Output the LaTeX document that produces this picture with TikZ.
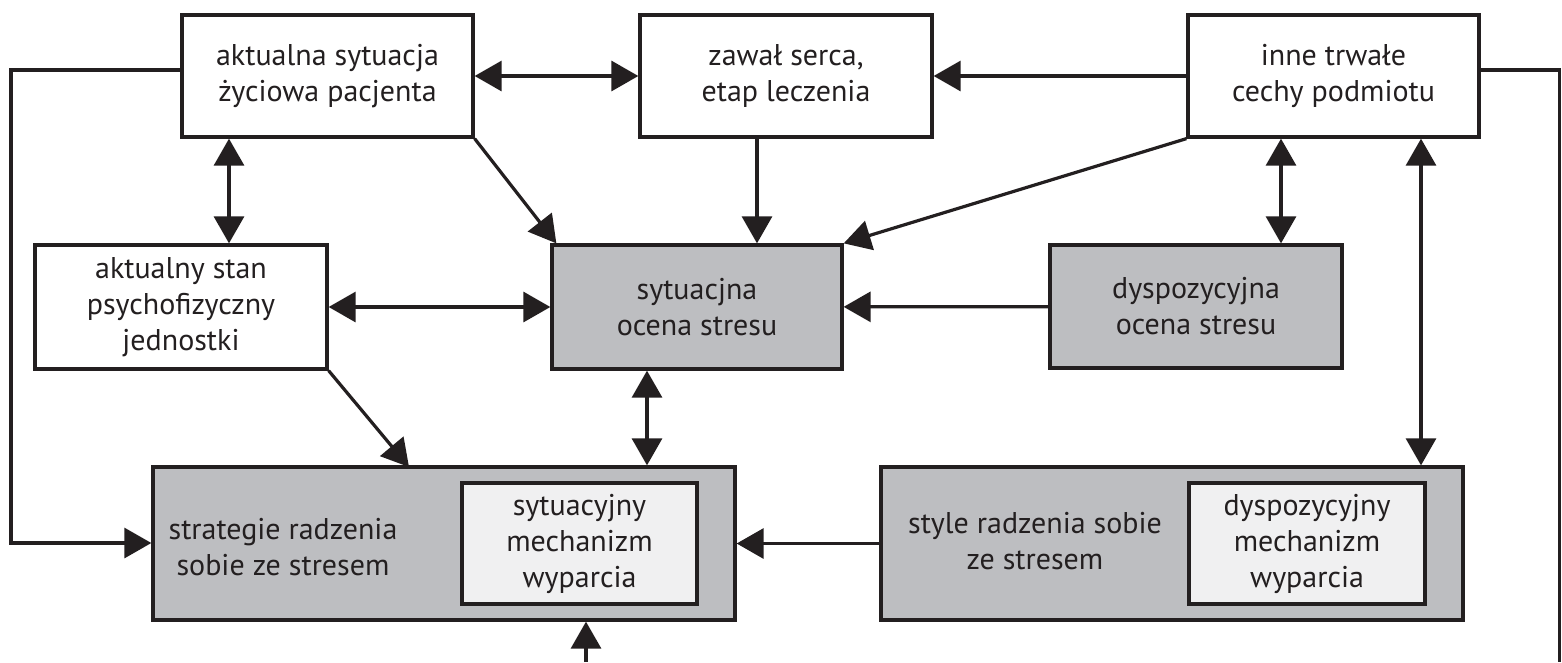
\documentclass[tikz,border=0pt]{standalone}
\usepackage{fontspec}
\setmainfont{PT Sans}
\usetikzlibrary{arrows.meta,calc}
\definecolor{ln}{RGB}{35,31,32}
\definecolor{gfill}{RGB}{189,190,193}
\definecolor{lfill}{RGB}{240,240,241}
\tikzset{
  box/.style={draw=ln, line width=3.3pt, fill=white, inner sep=0pt, align=center,
    font=\fontsize{30}{36}\selectfont, text=ln},
  gbox/.style={box, fill=gfill},
  ibox/.style={box, fill=lfill},
  lbl/.style={inner sep=0pt, align=center, font=\fontsize{30}{36}\selectfont, text=ln},
  con/.style={draw=ln, line width=3.2pt},
  sgl/.style={con, -{Triangle[length=27pt,width=30pt]}},
  dbl/.style={con, {Triangle[length=27pt,width=30pt]}-{Triangle[length=27pt,width=30pt]}},
}
\begin{document}
\begin{tikzpicture}[x=1pt,y=-1pt]
\useasboundingbox (0,0) rectangle (1562,662);
% top row
\node[box, minimum width=291pt, minimum height=122pt] (b1) at (327.5,76) {aktualna sytuacja\\życiowa pacjenta};
\node[box, minimum width=292pt, minimum height=122pt] (b2) at (786,76) {zawał serca,\\etap leczenia};
\node[box, minimum width=291pt, minimum height=122pt] (b3) at (1333.5,76) {inne trwałe\\cechy podmiotu};
% middle row
\node[box, minimum width=292pt, minimum height=124pt] (b4) at (181,307) {aktualny stan\\psychofizyczny\\jednostki};
\node[gbox, minimum width=290pt, minimum height=124pt] (b5) at (697,307) {sytuacjna\\ocena stresu};
\node[gbox, minimum width=292pt, minimum height=123pt] (b6) at (1196,306.5) {dyspozycyjna\\ocena stresu};
% bottom row
\node[gbox, minimum width=582pt, minimum height=153pt] (b7) at (444,543.5) {};
\node[ibox, minimum width=235pt, minimum height=121pt] (b7i) at (579.5,543.5) {sytuacyjny\\mechanizm\\wyparcia};
\node[lbl] (t7) at (283,547) {strategie radzenia\\sobie ze stresem};
\node[gbox, minimum width=582pt, minimum height=153pt] (b8) at (1172,543.5) {};
\node[ibox, minimum width=236pt, minimum height=121pt] (b8i) at (1307,543.5) {dyspozycyjny\\mechanizm\\wyparcia};
\node[lbl] (t8) at (1035,541) {style radzenia sobie\\ze stresem};
% free-end coordinates
\coordinate (L1) at (11,70);
\coordinate (L2) at (11,543);
\coordinate (R1) at (1559.5,70);
\coordinate (R2) at (1559.5,662);
\coordinate (B1) at (586,662);
\coordinate (D7) at (409,467);
% connectors
\draw[dbl] (b1) -- (b2);
\draw[sgl] (b3) -- (b2);
\draw[sgl] (b1.west |- L1) -- (L1) -- (L2) -- (b7.west |- L2);
\draw[con] (b3.east |- R1) -- (R1) -- (R2);
\draw[sgl] (B1) -- (b7.south -| B1);
\draw[dbl] (b1.south -| 229,0) -- (b4.north -| 229,0);
\draw[sgl] (b1.south east) -- ($(b5.north west)+(6,0)$);
\draw[sgl] (b2.south -| 757,0) -- (b5.north -| 757,0);
\draw[sgl] (b3.south west) -- (b5.north east);
\draw[dbl] (b3.south -| 1281,0) -- (b6.north -| 1281,0);
\draw[dbl] (b3.south -| 1421,0) -- (b8.north -| 1421,0);
\draw[dbl] (b4) -- (b5);
\draw[sgl] (b6) -- (b5);
\draw[sgl] (b4.south east) -- (D7);
\draw[dbl] (b5.south -| 647,0) -- (b7.north -| 647,0);
\draw[sgl] (b8) -- (b7);
\end{tikzpicture}
\end{document}
